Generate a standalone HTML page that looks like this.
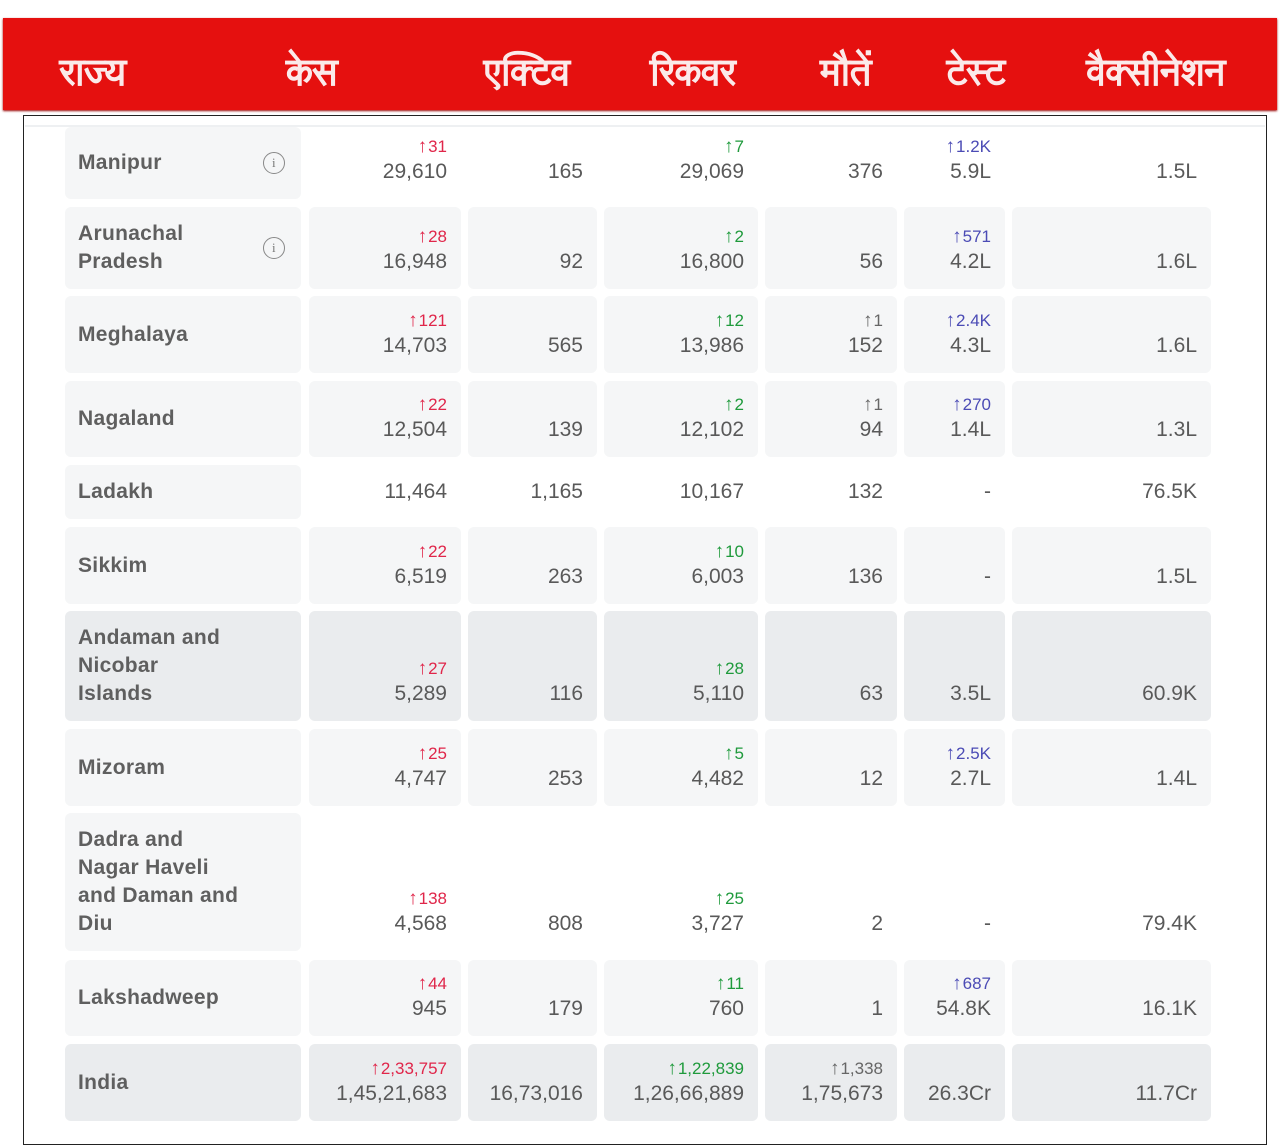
<!DOCTYPE html>
<html><head><meta charset="utf-8"><style>
body{margin:0;width:1280px;height:1146px;background:#fff;position:relative;overflow:hidden;font-family:"Liberation Sans","DejaVu Sans",sans-serif}
.hdr{position:absolute;left:3px;top:18px;width:1274px;height:92px;background:#e5100f;box-shadow:0 1px 2px #900}
.h{position:absolute;transform:translate(-50%,-50%);color:#fbeaea;font-size:36px;font-weight:900;font-family:"Lohit Devanagari","Noto Sans Devanagari","FreeSerif","DejaVu Sans",serif;white-space:nowrap;-webkit-text-stroke:0.6px #fbeaea}
.box{position:absolute;left:23px;top:115px;width:1242px;height:1028px;border:1.5px solid #222}
.sep{position:absolute;left:25px;top:125px;width:1240px;height:2px;background:#eef0f2}
.c{position:absolute;box-sizing:border-box;border-radius:6px;display:flex;flex-direction:column;justify-content:flex-end;align-items:flex-end;padding:0 14px 14px 0;color:#595959;font-size:21px}
.c.g{background:#f5f6f7}.c.d{background:#eaecee}
.c .n{line-height:26px}
.c .u{line-height:25px;font-size:17px}
.c .u b{font-size:19px;font-weight:bold;margin-right:1px}
.r{color:#e0264a}.gr{color:#1f9a3c}.b{color:#4b4bb5}.k{color:#666}
.nm{position:absolute;box-sizing:border-box;border-radius:6px;padding-left:13px;display:flex;align-items:center;color:#5f5f5f;font-size:21px;font-weight:bold;line-height:28px;letter-spacing:.3px}
.nm.g{background:#f5f6f7}.nm.d{background:#eaecee}
.i{position:absolute;left:198px;width:22px;height:22px;border:1.5px solid #888;border-radius:50%;box-sizing:border-box;font-size:13px;color:#777;text-align:center;line-height:19px;font-family:"Liberation Serif",serif;font-weight:normal}
</style></head><body>
<div class="hdr"></div>
<div class="h" style="left:93px;top:76px">राज्य</div>
<div class="h" style="left:312px;top:76px">केस</div>
<div class="h" style="left:527px;top:76px">एक्टिव</div>
<div class="h" style="left:693px;top:76px">रिकवर</div>
<div class="h" style="left:846px;top:76px">मौतें</div>
<div class="h" style="left:976px;top:76px">टेस्ट</div>
<div class="h" style="left:1156px;top:76px">वैक्सीनेशन</div>
<div class="box"></div>
<div class="sep"></div>

<div class="nm g" style="left:65px;top:127px;width:236px;height:72px">Manipur<span class="i" style="top:25px">i</span></div>
<div class="c" style="left:309px;top:127px;width:152px;height:72px"><span class="u r"><b>↑</b>31</span><span class="n">29,610</span></div>
<div class="c" style="left:468px;top:127px;width:129px;height:72px"><span class="n">165</span></div>
<div class="c" style="left:604px;top:127px;width:154px;height:72px"><span class="u gr"><b>↑</b>7</span><span class="n">29,069</span></div>
<div class="c" style="left:765px;top:127px;width:132px;height:72px"><span class="n">376</span></div>
<div class="c" style="left:904px;top:127px;width:101px;height:72px"><span class="u b"><b>↑</b>1.2K</span><span class="n">5.9L</span></div>
<div class="c" style="left:1012px;top:127px;width:199px;height:72px"><span class="n">1.5L</span></div>

<div class="nm g" style="left:65px;top:207px;width:236px;height:82px">Arunachal<br>Pradesh<span class="i" style="top:30px">i</span></div>
<div class="c g" style="left:309px;top:207px;width:152px;height:82px"><span class="u r"><b>↑</b>28</span><span class="n">16,948</span></div>
<div class="c g" style="left:468px;top:207px;width:129px;height:82px"><span class="n">92</span></div>
<div class="c g" style="left:604px;top:207px;width:154px;height:82px"><span class="u gr"><b>↑</b>2</span><span class="n">16,800</span></div>
<div class="c g" style="left:765px;top:207px;width:132px;height:82px"><span class="n">56</span></div>
<div class="c g" style="left:904px;top:207px;width:101px;height:82px"><span class="u b"><b>↑</b>571</span><span class="n">4.2L</span></div>
<div class="c g" style="left:1012px;top:207px;width:199px;height:82px"><span class="n">1.6L</span></div>

<div class="nm g" style="left:65px;top:296px;width:236px;height:77px">Meghalaya</div>
<div class="c g" style="left:309px;top:296px;width:152px;height:77px"><span class="u r"><b>↑</b>121</span><span class="n">14,703</span></div>
<div class="c g" style="left:468px;top:296px;width:129px;height:77px"><span class="n">565</span></div>
<div class="c g" style="left:604px;top:296px;width:154px;height:77px"><span class="u gr"><b>↑</b>12</span><span class="n">13,986</span></div>
<div class="c g" style="left:765px;top:296px;width:132px;height:77px"><span class="u k"><b>↑</b>1</span><span class="n">152</span></div>
<div class="c g" style="left:904px;top:296px;width:101px;height:77px"><span class="u b"><b>↑</b>2.4K</span><span class="n">4.3L</span></div>
<div class="c g" style="left:1012px;top:296px;width:199px;height:77px"><span class="n">1.6L</span></div>

<div class="nm g" style="left:65px;top:381px;width:236px;height:76px">Nagaland</div>
<div class="c g" style="left:309px;top:381px;width:152px;height:76px"><span class="u r"><b>↑</b>22</span><span class="n">12,504</span></div>
<div class="c g" style="left:468px;top:381px;width:129px;height:76px"><span class="n">139</span></div>
<div class="c g" style="left:604px;top:381px;width:154px;height:76px"><span class="u gr"><b>↑</b>2</span><span class="n">12,102</span></div>
<div class="c g" style="left:765px;top:381px;width:132px;height:76px"><span class="u k"><b>↑</b>1</span><span class="n">94</span></div>
<div class="c g" style="left:904px;top:381px;width:101px;height:76px"><span class="u b"><b>↑</b>270</span><span class="n">1.4L</span></div>
<div class="c g" style="left:1012px;top:381px;width:199px;height:76px"><span class="n">1.3L</span></div>

<div class="nm g" style="left:65px;top:465px;width:236px;height:54px">Ladakh</div>
<div class="c" style="left:309px;top:465px;width:152px;height:54px"><span class="n">11,464</span></div>
<div class="c" style="left:468px;top:465px;width:129px;height:54px"><span class="n">1,165</span></div>
<div class="c" style="left:604px;top:465px;width:154px;height:54px"><span class="n">10,167</span></div>
<div class="c" style="left:765px;top:465px;width:132px;height:54px"><span class="n">132</span></div>
<div class="c" style="left:904px;top:465px;width:101px;height:54px"><span class="n">-</span></div>
<div class="c" style="left:1012px;top:465px;width:199px;height:54px"><span class="n">76.5K</span></div>

<div class="nm g" style="left:65px;top:527px;width:236px;height:77px">Sikkim</div>
<div class="c g" style="left:309px;top:527px;width:152px;height:77px"><span class="u r"><b>↑</b>22</span><span class="n">6,519</span></div>
<div class="c g" style="left:468px;top:527px;width:129px;height:77px"><span class="n">263</span></div>
<div class="c g" style="left:604px;top:527px;width:154px;height:77px"><span class="u gr"><b>↑</b>10</span><span class="n">6,003</span></div>
<div class="c g" style="left:765px;top:527px;width:132px;height:77px"><span class="n">136</span></div>
<div class="c g" style="left:904px;top:527px;width:101px;height:77px"><span class="n">-</span></div>
<div class="c g" style="left:1012px;top:527px;width:199px;height:77px"><span class="n">1.5L</span></div>

<div class="nm d" style="left:65px;top:611px;width:236px;height:110px">Andaman and<br>Nicobar<br>Islands</div>
<div class="c d" style="left:309px;top:611px;width:152px;height:110px"><span class="u r"><b>↑</b>27</span><span class="n">5,289</span></div>
<div class="c d" style="left:468px;top:611px;width:129px;height:110px"><span class="n">116</span></div>
<div class="c d" style="left:604px;top:611px;width:154px;height:110px"><span class="u gr"><b>↑</b>28</span><span class="n">5,110</span></div>
<div class="c d" style="left:765px;top:611px;width:132px;height:110px"><span class="n">63</span></div>
<div class="c d" style="left:904px;top:611px;width:101px;height:110px"><span class="n">3.5L</span></div>
<div class="c d" style="left:1012px;top:611px;width:199px;height:110px"><span class="n">60.9K</span></div>

<div class="nm g" style="left:65px;top:729px;width:236px;height:77px">Mizoram</div>
<div class="c g" style="left:309px;top:729px;width:152px;height:77px"><span class="u r"><b>↑</b>25</span><span class="n">4,747</span></div>
<div class="c g" style="left:468px;top:729px;width:129px;height:77px"><span class="n">253</span></div>
<div class="c g" style="left:604px;top:729px;width:154px;height:77px"><span class="u gr"><b>↑</b>5</span><span class="n">4,482</span></div>
<div class="c g" style="left:765px;top:729px;width:132px;height:77px"><span class="n">12</span></div>
<div class="c g" style="left:904px;top:729px;width:101px;height:77px"><span class="u b"><b>↑</b>2.5K</span><span class="n">2.7L</span></div>
<div class="c g" style="left:1012px;top:729px;width:199px;height:77px"><span class="n">1.4L</span></div>

<div class="nm g" style="left:65px;top:813px;width:236px;height:138px">Dadra and<br>Nagar Haveli<br>and Daman and<br>Diu</div>
<div class="c" style="left:309px;top:813px;width:152px;height:138px"><span class="u r"><b>↑</b>138</span><span class="n">4,568</span></div>
<div class="c" style="left:468px;top:813px;width:129px;height:138px"><span class="n">808</span></div>
<div class="c" style="left:604px;top:813px;width:154px;height:138px"><span class="u gr"><b>↑</b>25</span><span class="n">3,727</span></div>
<div class="c" style="left:765px;top:813px;width:132px;height:138px"><span class="n">2</span></div>
<div class="c" style="left:904px;top:813px;width:101px;height:138px"><span class="n">-</span></div>
<div class="c" style="left:1012px;top:813px;width:199px;height:138px"><span class="n">79.4K</span></div>

<div class="nm g" style="left:65px;top:960px;width:236px;height:76px">Lakshadweep</div>
<div class="c g" style="left:309px;top:960px;width:152px;height:76px"><span class="u r"><b>↑</b>44</span><span class="n">945</span></div>
<div class="c g" style="left:468px;top:960px;width:129px;height:76px"><span class="n">179</span></div>
<div class="c g" style="left:604px;top:960px;width:154px;height:76px"><span class="u gr"><b>↑</b>11</span><span class="n">760</span></div>
<div class="c g" style="left:765px;top:960px;width:132px;height:76px"><span class="n">1</span></div>
<div class="c g" style="left:904px;top:960px;width:101px;height:76px"><span class="u b"><b>↑</b>687</span><span class="n">54.8K</span></div>
<div class="c g" style="left:1012px;top:960px;width:199px;height:76px"><span class="n">16.1K</span></div>

<div class="nm d" style="left:65px;top:1044px;width:236px;height:77px">India</div>
<div class="c d" style="left:309px;top:1044px;width:152px;height:77px"><span class="u r"><b>↑</b>2,33,757</span><span class="n">1,45,21,683</span></div>
<div class="c d" style="left:468px;top:1044px;width:129px;height:77px"><span class="n">16,73,016</span></div>
<div class="c d" style="left:604px;top:1044px;width:154px;height:77px"><span class="u gr"><b>↑</b>1,22,839</span><span class="n">1,26,66,889</span></div>
<div class="c d" style="left:765px;top:1044px;width:132px;height:77px"><span class="u k"><b>↑</b>1,338</span><span class="n">1,75,673</span></div>
<div class="c d" style="left:904px;top:1044px;width:101px;height:77px"><span class="n">26.3Cr</span></div>
<div class="c d" style="left:1012px;top:1044px;width:199px;height:77px"><span class="n">11.7Cr</span></div>
</body></html>
